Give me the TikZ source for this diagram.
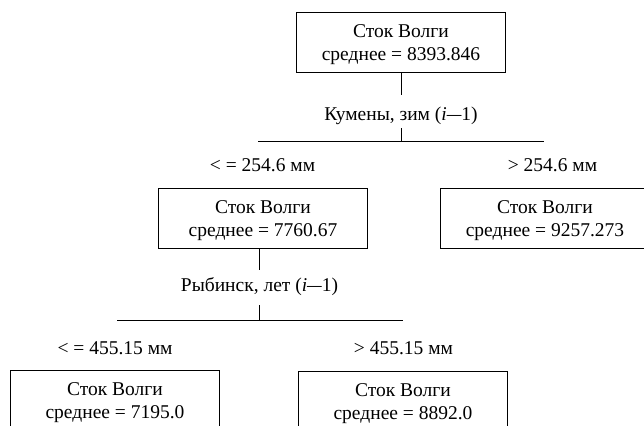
\documentclass[tikz,border=0pt]{standalone}
\usepackage{fontspec}
\newfontfamily\libser{Liberation Serif}
\newcommand\bxt[2]{\rule{0pt}{16.5pt}#1\\#2}
\newcommand\dsh{\scalebox{0.75}[1]{—}}
\begin{document}
\begin{tikzpicture}[x=1pt,y=-1pt,
  every node/.style={font=\libser\fontsize{19.5}{22.7}\selectfont},
  box/.style={draw, line width=0.8pt, align=center, minimum width=209pt, minimum height=60.5pt, inner sep=0pt},
  splitlbl/.style={inner sep=0pt, anchor=base},
  brlbl/.style={inner sep=0pt, anchor=base},
  conn/.style={line width=0.8pt}]
\useasboundingbox (0,0) rectangle (644,425);
\begin{scope}
\clip (0,0) rectangle (644,425);
% boxes
\node[box] (root) at (401,42.5) {\bxt{Сток Волги}{среднее = 8393.846}};
\node[box] (ml) at (263,218.5) {\bxt{Сток Волги}{среднее = 7760.67}};
\node[box] (mr) at (545,218.5) {\bxt{Сток Волги}{среднее = 9257.273}};
\node[box] (bl) at (115,400.5) {\bxt{Сток Волги}{среднее = 7195.0}};
\node[box] (br) at (403,401.5) {\bxt{Сток Волги}{среднее = 8892.0}};
% split labels
\node[splitlbl, text height=25.5pt, text depth=7.5pt] (k1) at (401,120.5) {Кумены, зим (\textit{i}\dsh 1)};
\node[splitlbl, text height=21pt, text depth=14pt] (k2) at (259.5,291) {Рыбинск, лет (\textit{i}\dsh 1)};
% branch labels
\node[brlbl] (b1l) at (262.5,171) {< = 254.6 мм};
\node[brlbl] (b1r) at (552.5,171) {> 254.6 мм};
\node[brlbl] (b2l) at (115,354) {< = 455.15 мм};
\node[brlbl] (b2r) at (403.5,354) {> 455.15 мм};
% connector coordinates
\coordinate (s1) at (401,141);
\coordinate (s1l) at (258,141);
\coordinate (s1r) at (544,141);
\coordinate (s2) at (259.5,320);
\coordinate (s2l) at (117,320);
\coordinate (s2r) at (403,320);
% connectors
\draw[conn] (root.south) -- (k1.north);
\draw[conn] (k1.south) -- (s1);
\draw[conn] (s1l) -- (s1r);
\draw[conn] (k2.north |- ml.south) -- (k2.north);
\draw[conn] (k2.south) -- (s2);
\draw[conn] (s2l) -- (s2r);
\end{scope}
\end{tikzpicture}
\end{document}
